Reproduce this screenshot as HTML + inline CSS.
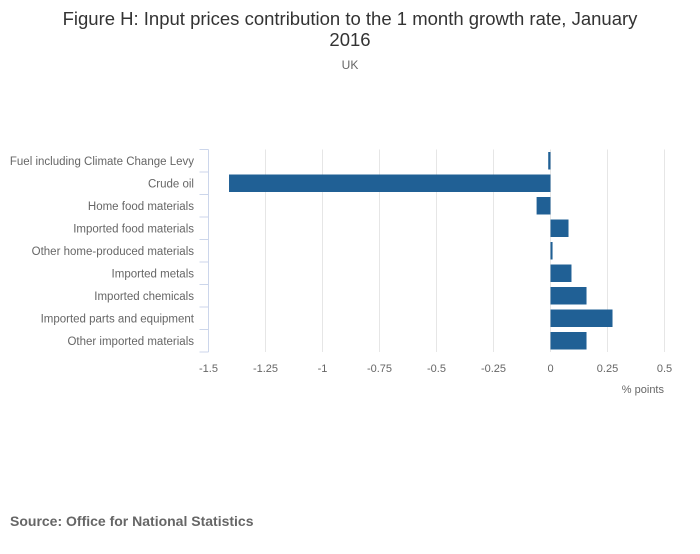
<!DOCTYPE html>
<html><head><meta charset="utf-8"><style>
body{margin:0;background:#fff;font-family:"Liberation Sans",sans-serif;}
svg text{font-family:"Liberation Sans",sans-serif;}
</style></head><body>
<svg id="chart" width="700" height="549" xmlns="http://www.w3.org/2000/svg">
<text x="350" y="25" text-anchor="middle" font-size="18.5" fill="#333">Figure H: Input prices contribution to the 1 month growth rate, January</text>
<text x="350" y="46" text-anchor="middle" font-size="18.5" fill="#333">2016</text>
<text x="350" y="69" text-anchor="middle" font-size="12" fill="#666">UK</text>
<text x="664" y="393" text-anchor="end" font-size="11" fill="#666">% points</text>
<text x="10" y="526" font-size="14" font-weight="bold" fill="#666">Source: Office for National Statistics</text>
<g id="grid"></g><g id="bars"></g><g id="axes"></g>
</svg>
<script>
const categories=["Fuel including Climate Change Levy","Crude oil","Home food materials","Imported food materials","Other home-produced materials","Imported metals","Imported chemicals","Imported parts and equipment","Other imported materials"];
const values=[-0.01,-1.41,-0.061,0.079,0.009,0.092,0.158,0.272,0.158];
const xTicks=[-1.5,-1.25,-1,-0.75,-0.5,-0.25,0,0.25,0.5];
const xTickLabels=["-1.5","-1.25","-1","-0.75","-0.5","-0.25","0","0.25","0.5"];
const NS="http://www.w3.org/2000/svg";
const L=208.5,R=664.5,T=149.5,B=352,xmin=-1.5,xmax=0.5;
const x=v=>L+(v-xmin)/(xmax-xmin)*(R-L);
const band=(B-T)/categories.length;
const y=i=>T+i*band;
function mk(t,a,p){const e=document.createElementNS(NS,t);for(const k in a)e.setAttribute(k,a[k]);p.appendChild(e);return e;}
const grid=document.getElementById('grid'),bars=document.getElementById('bars'),axes=document.getElementById('axes');
xTicks.forEach((v,i)=>{
 if(i>0){const g=mk('line',{x1:x(v),x2:x(v),y1:T,y2:B,stroke:'#e6e6e6','stroke-width':1},grid);
 
 }
 const t=mk('text',{x:x(v),y:372,'text-anchor':'middle','font-size':11,fill:'#666'},axes);
 t.textContent=xTickLabels[i];
 
 
});
const ax=mk('line',{x1:L,x2:L,y1:T,y2:B,stroke:'#ccd6eb','stroke-width':1},axes);


for(let i=0;i<=categories.length;i++){
 const tk=mk('line',{x1:L-9,x2:L,y1:y(i),y2:y(i),stroke:'#ccd6eb','stroke-width':1},axes);
 
 
}
categories.forEach((c,i)=>{
 const t=mk('text',{x:194,y:y(i)+band/2+4,'text-anchor':'end','font-size':11.5,fill:'#666'},axes);
 t.textContent=c;
 
 
 const v=values[i],x0=x(0),xv=x(v);
 const r=mk('rect',{x:Math.min(x0,xv),y:y(i)+2.5,width:Math.max(1.5,Math.abs(xv-x0)),height:band-5,fill:'#206095'},bars);
 
 
});
</script>
</body></html>
